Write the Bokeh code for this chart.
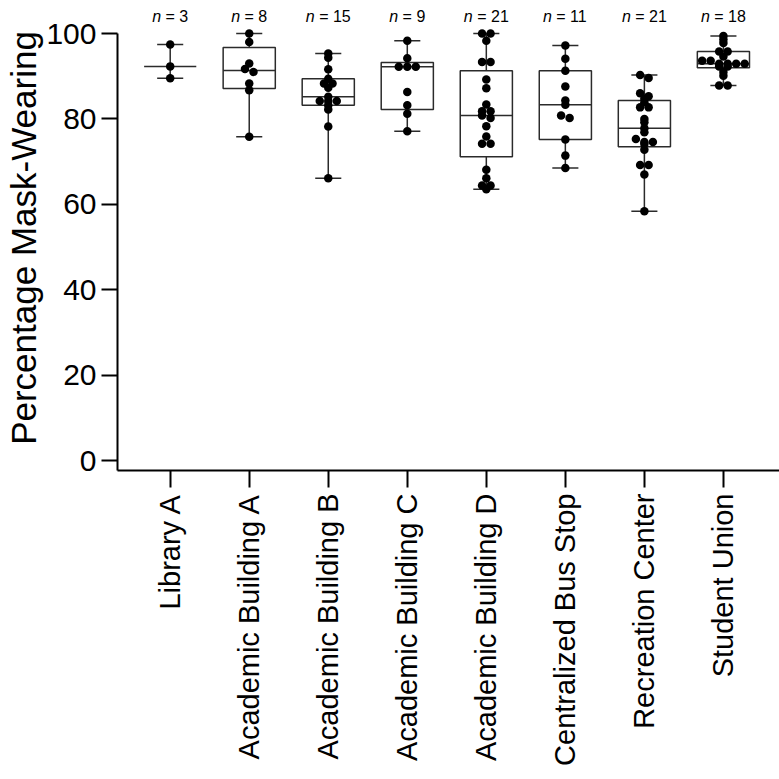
import math
import numpy as np
from bokeh.plotting import figure
from bokeh.models import Range1d, FixedTicker, ColumnDataSource
from bokeh.core.properties import value
from bokeh.embed import file_html
from bokeh.resources import INLINE

# Observation sites (x categories) and percentage of people wearing masks per visit
sites = [
    "Library A",
    "Academic Building A",
    "Academic Building B",
    "Academic Building C",
    "Academic Building D",
    "Centralized Bus Stop",
    "Recreation Center",
    "Student Union",
]

library_a = [97.4, 92.3, 89.5]
academic_a = [100.0, 98.0, 93.0, 91.7, 91.0, 88.3, 86.7, 75.8]
academic_b = [95.3, 94.3, 91.6, 89.4, 88.3, 88.3, 87.3, 85.2, 84.2, 84.2, 84.2,
              83.2, 82.2, 78.2, 66.1]
academic_c = [98.3, 94.2, 92.2, 92.2, 92.2, 86.3, 83.2, 81.2, 77.1]
academic_d = [100.0, 100.0, 98.3, 93.3, 93.3, 89.2, 87.2, 83.4, 81.8, 81.8, 80.8,
              80.2, 78.3, 75.9, 74.2, 74.2, 68.1, 66.1, 64.4, 64.4, 63.5]
bus_stop = [97.2, 94.1, 91.3, 87.6, 84.3, 83.3, 80.8, 80.2, 75.2, 71.4, 68.5]
recreation = [90.3, 89.6, 86.0, 85.3, 84.7, 83.9, 82.7, 82.7, 80.0, 79.2, 77.8,
              76.9, 75.3, 74.6, 74.6, 74.1, 72.8, 69.2, 69.2, 67.0, 58.4]
student_union = [99.4, 98.6, 97.8, 95.8, 95.8, 94.6, 93.6, 93.6, 92.9, 92.9, 92.9,
                 92.9, 92.3, 92.3, 91.0, 90.1, 87.8, 87.8]

site_values = [library_a, academic_a, academic_b, academic_c, academic_d,
               bus_stop, recreation, student_union]

y_ticks = [0, 20, 40, 60, 80, 100]

FONT = "Liberation Sans"
PX_PER_UNIT_Y = 4.27      # screen pixels per percentage point
PX_PER_UNIT_X = 79.03     # screen pixels per category step
DOT = 8.5                 # dot diameter in pixels
BOX_HALF = 0.33
CAP_HALF = 0.165


def percentile(vals, p):
    """(n + 1) * p interpolated percentile."""
    s = sorted(vals)
    n = len(s)
    pos = (n + 1) * p
    if pos <= 1:
        return s[0]
    if pos >= n:
        return s[-1]
    lo = int(np.floor(pos))
    frac = pos - lo
    return s[lo - 1] + frac * (s[lo] - s[lo - 1])


def swarm_offsets(vals, threshold=0.75):
    """Spread near-equal values side by side, centred on the category."""
    order = sorted(range(len(vals)), key=lambda i: -vals[i])
    offs = [0.0] * len(vals)
    groups, cur = [], [order[0]]
    for i in order[1:]:
        if vals[cur[0]] - vals[i] < threshold:
            cur.append(i)
        else:
            groups.append(cur)
            cur = [i]
    groups.append(cur)
    for g in groups:
        k = len(g)
        for j, i in enumerate(g):
            offs[i] = (j - (k - 1) / 2) * DOT / PX_PER_UNIT_X
    return offs


positions = list(range(1, len(sites) + 1))

box = dict(left=[], right=[], bottom=[], top=[])
med = dict(x0=[], x1=[], y=[])
whisk = dict(x=[], y0=[], y1=[])
caps = dict(x0=[], x1=[], y=[])
dots = dict(x=[], y=[])

for pos, vals in zip(positions, site_values):
    m = percentile(vals, 0.5)
    if len(vals) >= 4:
        q1, q3 = percentile(vals, 0.25), percentile(vals, 0.75)
        box["left"].append(pos - BOX_HALF)
        box["right"].append(pos + BOX_HALF)
        box["bottom"].append(q1)
        box["top"].append(q3)
    else:
        # too few points for quartiles: median and range only
        q1 = q3 = m
    lo, hi = min(vals), max(vals)
    med["x0"].append(pos - BOX_HALF)
    med["x1"].append(pos + BOX_HALF)
    med["y"].append(m)
    whisk["x"] += [pos, pos]
    whisk["y0"] += [q3, q1]
    whisk["y1"] += [hi, lo]
    caps["x0"] += [pos - CAP_HALF, pos - CAP_HALF]
    caps["x1"] += [pos + CAP_HALF, pos + CAP_HALF]
    caps["y"] += [hi, lo]
    for v, o in zip(vals, swarm_offsets(vals)):
        dots["x"].append(pos + o)
        dots["y"].append(v)

y_start = -10 / PX_PER_UNIT_Y
y_end = y_start + 465 / PX_PER_UNIT_Y
x_start = 1 - 52.7 / PX_PER_UNIT_X
x_end = x_start + 662 / PX_PER_UNIT_X

p = figure(width=779, height=779, output_backend="svg", toolbar_location=None,
           x_range=Range1d(x_start, x_end), y_range=Range1d(y_start, y_end),
           min_border_left=117, min_border_right=0, min_border_top=5,
           min_border_bottom=309)
p.outline_line_color = None
p.xgrid.visible = False
p.ygrid.visible = False
p.background_fill_color = "white"
p.border_fill_color = "white"

line_col = "#2b2b2b"
p.quad(source=ColumnDataSource(box), left="left", right="right", bottom="bottom",
       top="top", fill_color=None, line_color=line_col, line_width=1.5)
p.segment(source=ColumnDataSource(whisk), x0="x", x1="x", y0="y0", y1="y1",
          line_color=line_col, line_width=1.5)
p.segment(source=ColumnDataSource(caps), x0="x0", x1="x1", y0="y", y1="y",
          line_color=line_col, line_width=1.5)
p.segment(source=ColumnDataSource(med), x0="x0", x1="x1", y0="y", y1="y",
          line_color=line_col, line_width=1.5)
p.scatter(source=ColumnDataSource(dots), x="x", y="y", size=DOT,
          fill_color="black", line_color=None)

# sample sizes above each column: italic "n", upright "= N"
NFS = 16
counts = [len(v) for v in site_values]
widths = [NFS * (0.556 + 0.278 + 0.584 + 0.278 + 0.556 * len(str(c))) for c in counts]
nlab = ColumnDataSource(dict(
    x=positions,
    y=[104.0] * len(sites),
    n=["n"] * len(sites),
    rest=["= %d" % c for c in counts],
    off_n=[-w / 2 + 0.556 * NFS for w in widths],
    off_r=[-w / 2 + (0.556 + 0.278) * NFS for w in widths],
))
p.text(source=nlab, x="x", y="y", text="n", x_offset="off_n", text_align="right",
       text_baseline="alphabetic", text_font=value(FONT), text_font_size="%dpx" % NFS,
       text_font_style="italic", text_color="black")
p.text(source=nlab, x="x", y="y", text="rest", x_offset="off_r", text_align="left",
       text_baseline="alphabetic", text_font=value(FONT), text_font_size="%dpx" % NFS,
       text_color="black")

# y axis
ya = p.yaxis[0]
ya.ticker = FixedTicker(ticks=y_ticks)
ya.bounds = (y_start, 100)
ya.axis_label = "Percentage Mask-Wearing"
ya.axis_label_text_font = FONT
ya.axis_label_text_font_size = "35px"
ya.axis_label_text_font_style = "normal"
ya.axis_label_text_color = "black"
ya.axis_label_standoff = 0
ya.major_label_text_font = FONT
ya.major_label_text_font_size = "30px"
ya.major_label_text_color = "black"
ya.major_label_standoff = 5
ya.major_tick_out = 16
ya.major_tick_in = 0
ya.minor_tick_out = 0
ya.minor_tick_in = 0
ya.axis_line_width = 2
ya.major_tick_line_width = 2
ya.axis_line_color = "black"
ya.major_tick_line_color = "black"

# x axis
xa = p.xaxis[0]
xa.ticker = FixedTicker(ticks=positions)
xa.major_label_overrides = {pos: name for pos, name in zip(positions, sites)}
xa.major_label_orientation = math.pi / 2
xa.major_label_text_font = FONT
xa.major_label_text_font_size = "29px"
xa.major_label_text_color = "black"
xa.major_label_standoff = 6
xa.major_tick_out = 17
xa.major_tick_in = 0
xa.minor_tick_out = 0
xa.minor_tick_in = 0
xa.axis_line_width = 2
xa.major_tick_line_width = 2
xa.axis_line_color = "black"
xa.major_tick_line_color = "black"

open("out.html", "w").write(file_html(p, INLINE))
